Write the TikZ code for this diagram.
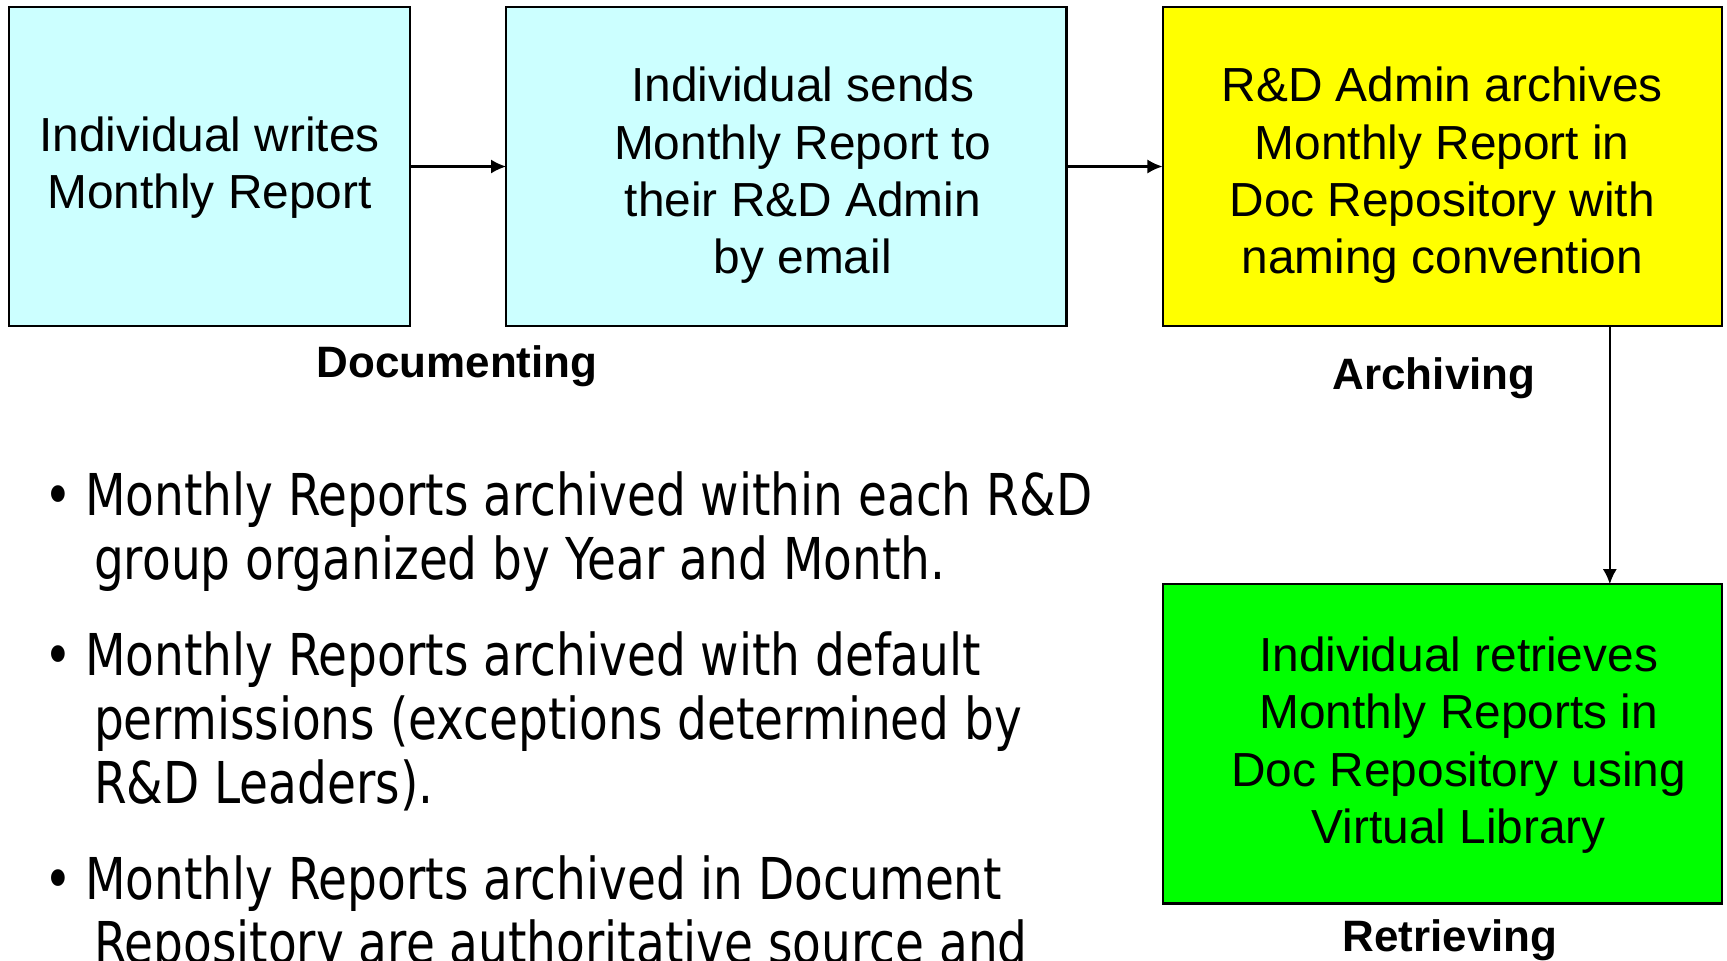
\documentclass[tikz,border=0pt]{standalone}
\usepackage{fontspec}
\setmainfont{Liberation Sans}
\newfontfamily\bulletfont[FakeStretch=0.815]{DejaVu Sans}
\usetikzlibrary{chains,positioning,arrows.meta}

\definecolor{boxcyan}{HTML}{CCFFFF}
\definecolor{boxyellow}{HTML}{FFFF00}
\definecolor{boxgreen}{HTML}{00FF00}

\begin{document}
\begin{tikzpicture}[x=0.01cm,y=-0.01cm,>={Latex[length=4.3pt,width=4pt]},line width=0.6pt]
        \edef\sizestage{3.19cm}
        \tikzstyle{stage}=[draw,minimum height=\sizestage,inner sep=0pt,outer sep=0pt]
        \tikzstyle{stagetext}=[align=center,font=\fontsize{13.6pt}{16.3pt}\selectfont]
        \tikzstyle{phase}=[font=\bfseries\fontsize{12.5pt}{15pt}\selectfont]
        \tikzstyle{point}=[anchor=base west,inner sep=0pt,align=left,
            font=\bulletfont\fontsize{16.4pt}{18.2pt}\selectfont]

        \useasboundingbox (0,0) rectangle (1727,960);
        \clip (0,0) rectangle (1727,960);

        \begin{scope}[start chain=1 going right,node distance=0.96cm]
        \node [on chain=1,stage,fill=boxcyan,minimum width=4.01cm] at (209.5,166.5) (write) {};
        \node [on chain=1,stage,fill=boxcyan,minimum width=5.60cm] (send) {};
        \node [on chain=1,stage,fill=boxyellow,minimum width=5.59cm] (archive) {};
        \end{scope}
        \node [stage,fill=boxgreen,minimum width=5.59cm,below=2.58cm of archive] (retrieve) {};

        %text inside the stages
        \node [stagetext,yshift=-0.013cm] at (write.center) (write_text) {Individual writes\\Monthly Report};
        \node [stagetext,xshift=0.165cm,yshift=-0.089cm] at (send.center) (send_text) {Individual sends\\Monthly Report to\\their R\&D Admin\\by email};
        \node [stagetext,yshift=-0.089cm] at (archive.center) (archive_text) {R\&D Admin archives\\Monthly Report in\\Doc Repository with\\naming convention};
        \node [stagetext,xshift=0.165cm,yshift=-0.013cm] at (retrieve.center) (retrieve_text) {Individual retrieves\\Monthly Reports in\\Doc Repository using\\Virtual Library};

        \draw [->] (write.east) -- (send.west);
        \draw [->] (send.east) -- (archive.west);
        \draw [->] ([xshift=1.675cm]archive.south) -- ([xshift=1.675cm]retrieve.north);

        %phase labels
        \node [phase] at (457,366) (documenting) {Documenting};
        \node [phase] at (1434,378) (archiving) {Archiving};
        \node [phase] at (1450,940) (retrieving) {Retrieving};

        %notes on the left (base = last line)
        \foreach \y/\name in {515/a,675/b,899/c} {
            \node [point] at (43,\y) (dot_\name) {•};
        };
        \node [point] at (84,579) (note_a) {Monthly Reports archived within each R\&D\\\hspace*{0.09cm}group organized by Year and Month.};
        \node [point] at (84,803) (note_b) {Monthly Reports archived with default\\\hspace*{0.09cm}permissions (exceptions determined by\\\hspace*{0.09cm}R\&D Leaders).};
        \node [point] at (84,963) (note_c) {Monthly Reports archived in Document\\\hspace*{0.09cm}Repository are authoritative source and};
\end{tikzpicture}
\end{document}
